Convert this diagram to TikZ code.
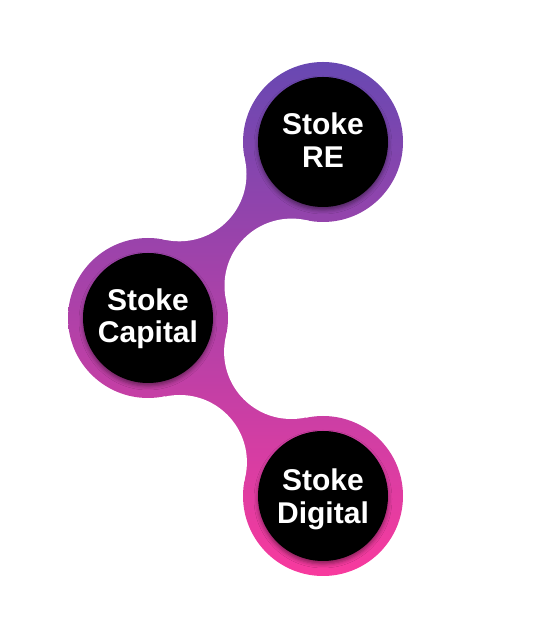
\documentclass[tikz,border=0pt]{standalone}
\usepackage{fontspec}
\setmainfont{Liberation Sans}
\usetikzlibrary{shadows.blur}
\definecolor{gtop}{RGB}{104,72,178}
\definecolor{gbot}{RGB}{248,58,158}
\tikzset{
  blackdisc/.style={circle, fill=black, minimum size=130pt, inner sep=0pt,
    blur shadow={shadow xshift=0pt, shadow yshift=-3pt, shadow blur radius=4pt, shadow opacity=45}},
  disclabel/.style={text=white, font=\fontsize{30}{32.5}\selectfont\bfseries, align=center},
  cutdisc/.style={fill=white}
}
\begin{document}
\begin{tikzpicture}[x=1pt,y=1pt]
\useasboundingbox (0,0) rectangle (543,642);
% centres
\coordinate (A) at (323,500);
\coordinate (B) at (148,324);
\coordinate (C) at (323,146);
% cut circle centres
\coordinate (P1) at (179.3,467.9);
\coordinate (P2) at (291.7,356.2);
\coordinate (Q1) at (179.7,179.8);
\coordinate (Q2) at (291.3,290.2);
% gradient body
\shade[top color=gtop, bottom color=gbot]
  (A) circle[radius=80] (B) circle[radius=80] (C) circle[radius=80]
  (244.9,482.6) -- (165.0,402.2) -- (226.1,341.5) -- (306.0,421.8) -- cycle
  (165.2,245.4) -- (245.2,164.6) -- (305.8,224.6) -- (225.8,305.4) -- cycle;
% concave cut-outs
\foreach \c in {P1,P2,Q1,Q2} \fill[cutdisc] (\c) circle[radius=67.2];
% black discs
\node[blackdisc] (re) at (A) {};
\node[blackdisc] (cap) at (B) {};
\node[blackdisc] (dig) at (C) {};
\node[disclabel] (reT) at ([yshift=2pt]re.center) {Stoke\\RE};
\node[disclabel] (capT) at ([yshift=-0.5pt]cap.center) {Stoke\\Capital};
\node[disclabel] (digT) at ([yshift=-3.5pt]dig.center) {Stoke\\Digital};
\end{tikzpicture}
\end{document}
